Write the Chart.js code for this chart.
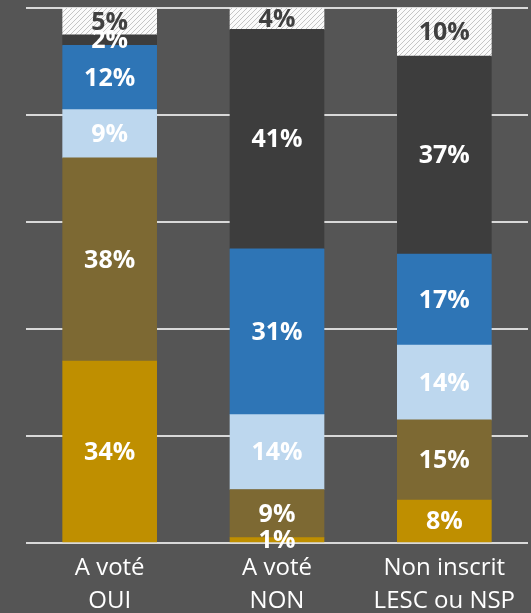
<!DOCTYPE html>
<html>
<head>
<meta charset="utf-8">
<script src="https://cdn.jsdelivr.net/npm/chart.js@4/dist/chart.umd.min.js"></script>
<style>
    html, body { margin: 0; padding: 0; background: #555555; }
    #wrap { width: 531px; height: 613px; }
</style>
</head>
<body>
<div id="wrap"><canvas id="barChart"></canvas></div>
<script>
// Données (en %)
const categories = [['A voté', 'OUI'], ['A voté', 'NON'], ['Non inscrit', 'LESC ou NSP']];
const serieOr = [34, 1, 8];
const serieOlive = [38, 9, 15];
const serieBleuClair = [9, 14, 14];
const serieBleu = [12, 31, 17];
const serieGris = [2, 41, 37];
const serieHachure = [5, 4, 10];
const yTicks = [0, 20, 40, 60, 80, 100];

// Motif hachuré pour la dernière série
function makeHatch() {
    const c = document.createElement('canvas');
    c.width = 5;
    c.height = 5;
    const g = c.getContext('2d');
    g.fillStyle = '#fafafa';
    g.fillRect(0, 0, 5, 5);
    g.strokeStyle = '#c4c4c4';
    g.lineWidth = 1;
    g.beginPath();
    g.moveTo(0, 5); g.lineTo(5, 0);
    g.moveTo(-2.5, 2.5); g.lineTo(2.5, -2.5);
    g.moveTo(2.5, 7.5); g.lineTo(7.5, 2.5);
    g.stroke();
    return g.createPattern(c, 'repeat');
}

// Plugin qui écrit le pourcentage au milieu de chaque segment
const segmentLabels = {
    id: 'segmentLabels',
    afterDatasetsDraw(chart) {
        const ctx = chart.ctx;
        const area = chart.chartArea;
        ctx.save();
        ctx.font = 'bold 25px "Open Sans", sans-serif';
        ctx.textAlign = 'center';
        ctx.textBaseline = 'middle';
        chart.data.datasets.forEach((ds, i) => {
            chart.getDatasetMeta(i).data.forEach((bar, j) => {
                const top = Math.max(bar.y, area.top);
                ctx.fillStyle = ds.labelColor;
                ctx.fillText(ds.data[j] + '%', bar.x, (top + bar.base) / 2 + 1);
            });
        });
        ctx.restore();
    }
};

function serie(data, color, labelColor) {
    return {
        data: data,
        backgroundColor: color,
        labelColor: labelColor,
        borderWidth: 0,
        barThickness: 94,
        clip: 0
    };
}

Chart.defaults.font.family = '"Open Sans", sans-serif';

const ctx = document.getElementById('barChart').getContext('2d');
new Chart(ctx, {
    type: 'bar',
    data: {
        labels: categories,
        datasets: [
            serie(serieOr, '#bf8f00', '#ffffff'),
            serie(serieOlive, '#7d6933', '#ffffff'),
            serie(serieBleuClair, '#bdd7ee', '#ffffff'),
            serie(serieBleu, '#2e75b6', '#ffffff'),
            serie(serieGris, '#3d3d3d', '#ffffff'),
            serie(serieHachure, makeHatch(), '#404040')
        ]
    },
    options: {
        responsive: true,
        maintainAspectRatio: false,
        animation: false,
        layout: { padding: { left: 26, right: 3, top: 8, bottom: 0 } },
        plugins: {
            legend: { display: false },
            tooltip: { enabled: false }
        },
        scales: {
            x: {
                stacked: true,
                grid: { display: false, drawTicks: false },
                border: { display: false },
                ticks: {
                    color: '#ffffff',
                    font: { size: 24, lineHeight: 1.375 },
                    padding: 9,
                    maxRotation: 0,
                    autoSkip: false
                },
                afterFit: scale => { scale.height = 70; }
            },
            y: {
                stacked: true,
                min: 0,
                max: 100,
                ticks: { display: false },
                afterBuildTicks: scale => { scale.ticks = yTicks.map(v => ({ value: v })); },
                grid: { color: '#d9d9d9', lineWidth: 2, drawTicks: false },
                border: { display: false },
                afterFit: scale => { scale.width = 0; }
            }
        }
    },
    plugins: [segmentLabels]
});
</script>
</body>
</html>
